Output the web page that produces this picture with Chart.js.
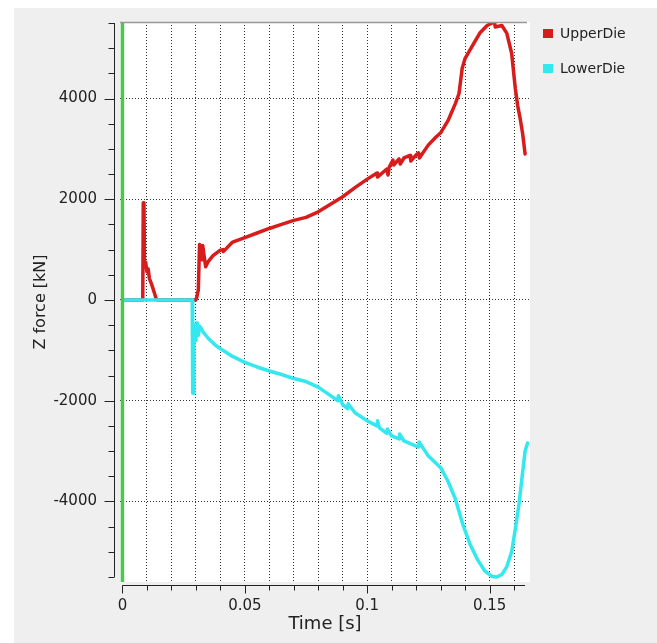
<!DOCTYPE html>
<html>
<head>
<meta charset="utf-8">
<script src="https://cdn.jsdelivr.net/npm/chart.js@4"></script>
<style>
  html, body { margin: 0; padding: 0; background: #fff; }
  #wrap { position: absolute; left: 0; top: 0; width: 657px; height: 643px; }
</style>
</head>
<body>
<div id="wrap"><canvas id="force" width="657" height="643"></canvas></div>
<script>
// UpperDie z force [kN] vs time [s]
const upperTime = [0, 0.0083, 0.0085, 0.0088, 0.0090, 0.0095, 0.0100, 0.0105, 0.0110, 0.0120, 0.0130, 0.0138, 0.0142,
  0.0300, 0.0305, 0.0310, 0.0315, 0.0320, 0.0325, 0.0328, 0.0333, 0.0340, 0.0350, 0.0370, 0.0400, 0.0410, 0.0412,
  0.0450, 0.0500, 0.0550, 0.0600, 0.0650, 0.0700, 0.0750, 0.0800, 0.0850, 0.0900, 0.0950, 0.1000,
  0.1040, 0.1042, 0.1080, 0.1085, 0.1090, 0.1105, 0.1108, 0.1130, 0.1135, 0.1150, 0.1175, 0.1178, 0.1200, 0.1210, 0.1213,
  0.1250, 0.1280, 0.1300, 0.1330, 0.1360, 0.1375, 0.1388, 0.1400, 0.1430, 0.1460, 0.1490, 0.1510, 0.1520, 0.1523,
  0.1550, 0.1570, 0.1590, 0.1605, 0.1615, 0.1625, 0.1635, 0.1645];
const upperForce = [0, 0, 1930, 1900, 700, 750, 560, 620, 430, 300, 150, 20, 0,
  0, 80, 200, 1100, 1050, 800, 1080, 900, 660, 760, 880, 990, 1000, 960,
  1150, 1240, 1330, 1420, 1500, 1580, 1640, 1750, 1900, 2050, 2230, 2400,
  2520, 2440, 2600, 2480, 2640, 2780, 2680, 2800, 2700, 2820, 2870, 2760, 2880, 2920, 2820,
  3080, 3230, 3320, 3560, 3900, 4100, 4600, 4800, 5050, 5300, 5450, 5500, 5520, 5420,
  5450, 5300, 4900, 4200, 3850, 3600, 3300, 2900];

// LowerDie z force [kN] vs time [s]
const lowerTime = [0, 0.0285, 0.0287, 0.0290, 0.0292, 0.0296, 0.0300, 0.0305, 0.0310, 0.0315, 0.0320, 0.0330,
  0.0350, 0.0380, 0.0410, 0.0450, 0.0500, 0.0550, 0.0600, 0.0650, 0.0700, 0.0750, 0.0800, 0.0850,
  0.0880, 0.0882, 0.0900, 0.0920, 0.0922, 0.0950, 0.1000, 0.1040, 0.1042, 0.1050, 0.1080, 0.1082, 0.1100,
  0.1130, 0.1132, 0.1150, 0.1200, 0.1210, 0.1212, 0.1250, 0.1300, 0.1330, 0.1360, 0.1390, 0.1420, 0.1450,
  0.1480, 0.1510, 0.1530, 0.1550, 0.1570, 0.1590, 0.1605, 0.1620, 0.1633, 0.1645, 0.1655];
const lowerForce = [0, 0, -1850, -1850, -600, -500, -800, -450, -700, -520, -550, -640,
  -760, -900, -1000, -1120, -1240, -1330, -1410, -1480, -1560, -1620, -1730, -1900,
  -2000, -1900, -2080, -2160, -2060, -2240, -2400, -2500, -2400, -2540, -2650, -2560, -2700,
  -2760, -2660, -2800, -2900, -2920, -2820, -3100, -3330, -3600, -3950, -4450, -4850, -5150,
  -5380, -5490, -5500, -5450, -5300, -5000, -4550, -4050, -3500, -3000, -2840];

// green time cursor at t = 0
const cursorTime = [0, 0];
const cursorForce = [5520, -5600];

const seriesNames = ['UpperDie', 'LowerDie'];
const xTicks = [0, 0.01, 0.02, 0.03, 0.04, 0.05, 0.06, 0.07, 0.08, 0.09, 0.1, 0.11, 0.12, 0.13, 0.14, 0.15, 0.16];
const xLabels = ['0', '', '', '', '', '0.05', '', '', '', '', '0.1', '', '', '', '', '0.15', ''];
const yTicks = [-4000, -2000, 0, 2000, 4000];

const toPts = (xs, ys) => xs.map((x, i) => ({ x: x, y: ys[i] }));

// paper, plot background, axes with minor ticks, legend
const decor = {
  id: 'decor',
  beforeDraw(chart) {
    const { ctx, chartArea: a } = chart;
    ctx.save();
    ctx.fillStyle = '#fff';
    ctx.fillRect(0, 0, chart.width, chart.height);
    ctx.fillStyle = '#efefef';
    ctx.fillRect(14, 8, chart.width - 14, chart.height - 8);
    ctx.fillStyle = '#fff';
    ctx.fillRect(a.left, a.top, a.right - a.left, a.bottom - a.top);
    ctx.restore();
  },
  afterDraw(chart) {
    const { ctx, chartArea: a, scales: { x, y } } = chart;
    ctx.save();
    ctx.strokeStyle = '#999';
    ctx.lineWidth = 1.5;
    ctx.beginPath();
    ctx.moveTo(a.left, a.top + 0.5);
    ctx.lineTo(a.right - 3, a.top + 0.5);
    ctx.stroke();

    ctx.strokeStyle = '#222';
    ctx.lineWidth = 1;
    // y axis
    const ax = a.left - 5.5;
    ctx.beginPath();
    ctx.moveTo(ax, y.getPixelForValue(5500));
    ctx.lineTo(ax, y.getPixelForValue(-5500));
    for (let v = -5500; v <= 5500; v += 500) {
      const py = Math.round(y.getPixelForValue(v)) + 0.5;
      ctx.moveTo(ax, py);
      ctx.lineTo(ax - (v % 2000 === 0 ? 10 : 6), py);
    }
    ctx.stroke();
    // x axis
    const ay = a.bottom + 3.5;
    ctx.beginPath();
    ctx.moveTo(x.getPixelForValue(0), ay);
    ctx.lineTo(x.getPixelForValue(0.1645), ay);
    xTicks.forEach((v, i) => {
      const px = Math.round(x.getPixelForValue(v)) + 0.5;
      ctx.moveTo(px, ay);
      ctx.lineTo(px, ay + (xLabels[i] ? 8 : 5));
    });
    ctx.stroke();

    // legend
    ctx.font = '14px "DejaVu Sans"';
    ctx.textBaseline = 'middle';
    seriesNames.forEach((name, i) => {
      const ds = chart.data.datasets.find(d => d.label === name);
      const cy = 34 + i * 35;
      ctx.fillStyle = ds.borderColor;
      ctx.fillRect(543, cy - 5, 10, 9);
      ctx.fillStyle = '#222';
      ctx.fillText(name, 560, cy);
    });
    ctx.restore();
  }
};

new Chart(document.getElementById('force'), {
  type: 'line',
  data: {
    datasets: [
      { label: 'cursor', data: toPts(cursorTime, cursorForce), borderColor: '#4cc64c', borderWidth: 3.5, order: 0 },
      { label: 'LowerDie', data: toPts(lowerTime, lowerForce), borderColor: '#33e8ee', borderWidth: 3.5, order: 1 },
      { label: 'UpperDie', data: toPts(upperTime, upperForce), borderColor: '#d81c1c', borderWidth: 3.5, order: 2 }
    ]
  },
  options: {
    responsive: false,
    animation: false,
    elements: { point: { radius: 0 }, line: { tension: 0, borderJoinStyle: 'round', borderCapStyle: 'round' } },
    layout: { padding: { left: 0, right: 127, top: 22, bottom: 0 } },
    plugins: { legend: { display: false }, tooltip: { enabled: false } },
    scales: {
      x: {
        type: 'linear',
        min: -0.001,
        max: 0.1665,
        afterFit(s) { s.height = 61; s.paddingLeft = 0; s.paddingRight = 0; },
        afterBuildTicks(s) { s.ticks = xTicks.map(v => ({ value: v })); },
        ticks: {
          padding: 15,
          maxRotation: 0,
          autoSkip: false,
          color: '#222',
          font: { family: 'DejaVu Sans', size: 15 },
          callback: (v, i) => xLabels[i]
        },
        grid: { color: '#333', lineWidth: 1, drawTicks: false },
        border: { display: false, dash: [1, 2] },
        title: { display: true, text: 'Time [s]', color: '#222', font: { family: 'DejaVu Sans', size: 18 }, padding: { top: 0, bottom: 8 } }
      },
      y: {
        type: 'linear',
        min: -5600,
        max: 5520,
        afterFit(s) { s.width = 120; s.paddingTop = 0; s.paddingBottom = 0; },
        afterBuildTicks(s) { s.ticks = yTicks.map(v => ({ value: v })); },
        ticks: {
          padding: 23,
          color: '#222',
          font: { family: 'DejaVu Sans', size: 15 },
          callback: v => String(v)
        },
        grid: { color: '#333', lineWidth: 1, drawTicks: false },
        border: { display: false, dash: [1, 2] },
        title: { display: true, text: 'Z force [kN]', color: '#222', font: { family: 'DejaVu Sans', size: 16 }, padding: { top: 31, bottom: 0 } }
      }
    }
  },
  plugins: [decor]
});
</script>
</body>
</html>
